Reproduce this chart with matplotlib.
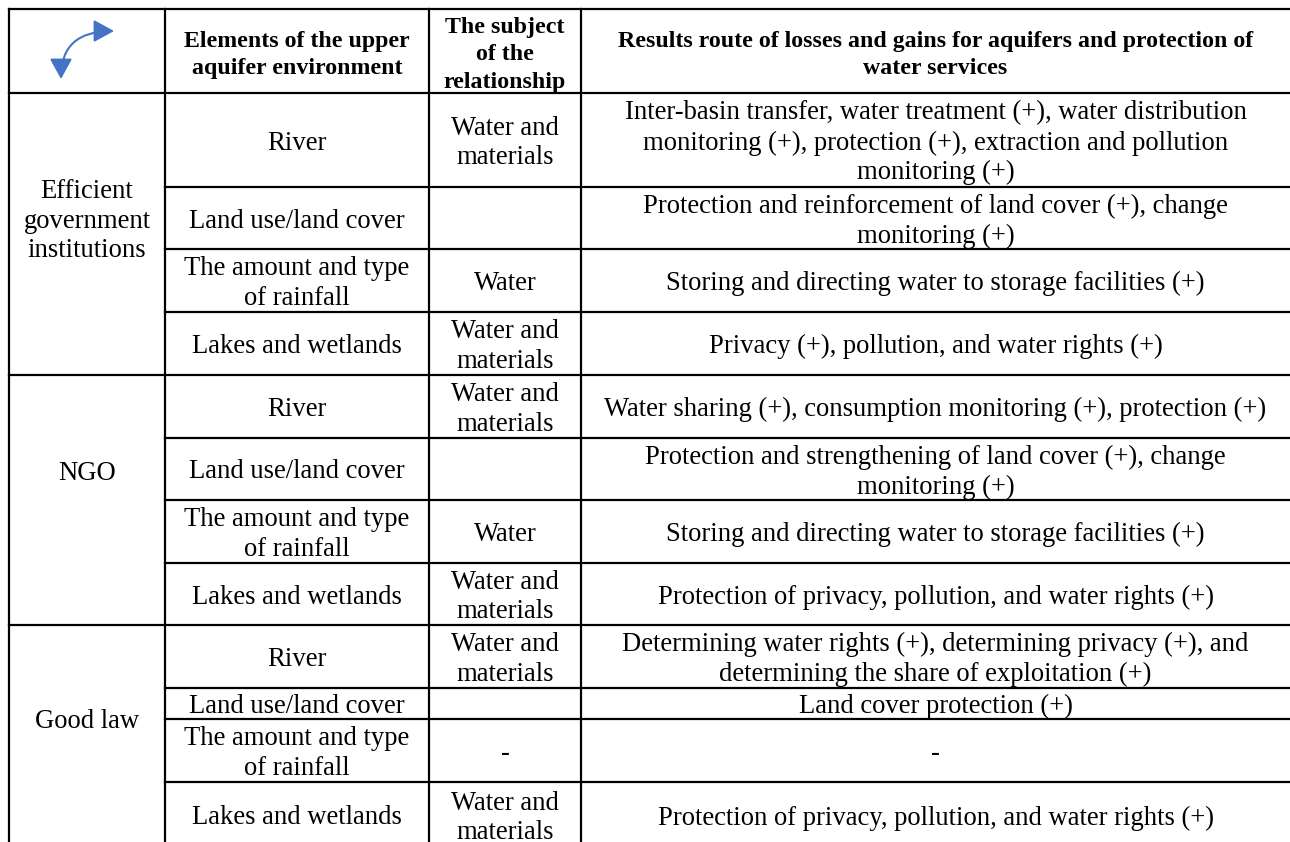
import matplotlib
matplotlib.use("Agg")
import matplotlib.pyplot as plt
from matplotlib.patches import FancyArrowPatch

# ---------------- data ----------------
headers = ["",
           "Elements of the upper\naquifer environment",
           "The subject\nof the\nrelationship",
           "Results route of losses and gains for aquifers and protection of\nwater services"]

groups = ["Efficient\ngovernment\ninstitutions", "NGO", "Good law"]

elements = ["River", "Land use/land cover",
            "The amount and type\nof rainfall", "Lakes and wetlands"]

subjects_gov = ["Water and\nmaterials", "", "Water", "Water and\nmaterials"]
subjects_ngo = ["Water and\nmaterials", "", "Water", "Water and\nmaterials"]
subjects_law = ["Water and\nmaterials", "", "-", "Water and\nmaterials"]

results_gov = ["Inter-basin transfer, water treatment (+), water distribution\n"
               "monitoring (+), protection (+), extraction and pollution\nmonitoring (+)",
               "Protection and reinforcement of land cover (+), change\nmonitoring (+)",
               "Storing and directing water to storage facilities (+)",
               "Privacy (+), pollution, and water rights (+)"]
results_ngo = ["Water sharing (+), consumption monitoring (+), protection (+)",
               "Protection and strengthening of land cover (+), change\nmonitoring (+)",
               "Storing and directing water to storage facilities (+)",
               "Protection of privacy, pollution, and water rights (+)"]
results_law = ["Determining water rights (+), determining privacy (+), and\n"
               "determining the share of exploitation (+)",
               "Land cover protection (+)",
               "-",
               "Protection of privacy, pollution, and water rights (+)"]

subjects = [subjects_gov, subjects_ngo, subjects_law]
results = [results_gov, results_ngo, results_law]

# ---------------- layout ----------------
W, H = 1290, 842
col_x = [9, 165, 429, 581, W]
row_y = [9, 93, 187, 249, 312, 375, 438, 500, 563, 625, 688, 719, 782, 848]
group_label_y = [218, 470, 718]
FONT = "Liberation Serif"
FS = 19.2
HFS = 17.2
LS = 1.25
HLS = 1.40
LW = 1.6
DY = 3      # body text vertical nudge
HDY = 4     # header text vertical nudge

fig = plt.figure(figsize=(W / 100, H / 100), dpi=100)
ax = fig.add_axes([0, 0, 1, 1])
ax.set_xlim(0, W)
ax.set_ylim(H, 0)
ax.axis("off")

def cx(c):
    return (col_x[c] + col_x[c + 1]) / 2

def txt(x, y, s, bold=False):
    ax.text(x, y + (HDY if bold else DY), s, ha="center", va="center", family=FONT,
            fontsize=HFS if bold else FS,
            fontweight="bold" if bold else "normal",
            linespacing=HLS if bold else LS, color="black")

# grid lines
group_rows = [row_y[1], row_y[5], row_y[9], row_y[13]]
for y in [row_y[0], row_y[1], row_y[5], row_y[9]]:
    ax.plot([col_x[0], W], [y, y], color="black", lw=LW, solid_capstyle="projecting")
for y in row_y[2:-1]:
    if y in group_rows:
        continue
    ax.plot([col_x[1], W], [y, y], color="black", lw=LW, solid_capstyle="projecting")
for x in col_x[:-1]:
    ax.plot([x, x], [row_y[0], H + 5], color="black", lw=LW, solid_capstyle="projecting")

# header
hy = (row_y[0] + row_y[1]) / 2
for c in range(1, 4):
    txt(cx(c), hy, headers[c], bold=True)

# arrow icon
arr = FancyArrowPatch((61, 79), (114, 31),
                      connectionstyle="angle3,angleA=90,angleB=0",
                      arrowstyle="<|-|>,head_length=0.62,head_width=0.34",
                      mutation_scale=20, color="#4472C4", lw=1.5,
                      shrinkA=0, shrinkB=0)
ax.add_patch(arr)

# body
for g in range(3):
    txt(cx(0), group_label_y[g], groups[g])
    for r in range(4):
        k = 1 + g * 4 + r
        yc = (row_y[k] + row_y[k + 1]) / 2
        txt(cx(1), yc, elements[r])
        if subjects[g][r]:
            txt(cx(2), yc, subjects[g][r])
        txt(cx(3), yc, results[g][r])

fig.savefig("out.png", dpi=100)
